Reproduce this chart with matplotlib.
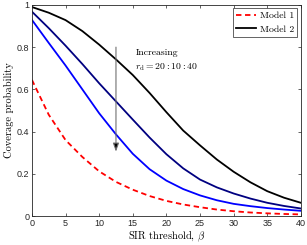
import numpy as np
import matplotlib
matplotlib.use("Agg")
import matplotlib.pyplot as plt

plt.rcParams['mathtext.fontset'] = 'cm'

beta = [0, 2.5, 5, 7.5, 10, 12.5, 15, 17.5, 20, 22.5, 25, 27.5, 30, 32.5, 35, 37.5, 40]
model1 = [0.645, 0.48, 0.36, 0.28, 0.212, 0.162, 0.125, 0.095, 0.072, 0.055, 0.042, 0.031, 0.023, 0.017, 0.013, 0.010, 0.008]
rd20 = [0.99, 0.963, 0.928, 0.876, 0.812, 0.742, 0.668, 0.583, 0.492, 0.405, 0.335, 0.268, 0.21, 0.16, 0.118, 0.087, 0.063]
rd30 = [0.968, 0.89, 0.807, 0.72, 0.629, 0.543, 0.457, 0.372, 0.293, 0.226, 0.173, 0.136, 0.107, 0.083, 0.063, 0.048, 0.036]
rd40 = [0.929, 0.82, 0.713, 0.60, 0.487, 0.387, 0.295, 0.222, 0.168, 0.128, 0.098, 0.075, 0.058, 0.047, 0.038, 0.031, 0.025]

xticks = [0, 5, 10, 15, 20, 25, 30, 35, 40]
yticks = [0, 0.2, 0.4, 0.6, 0.8, 1]
yticklabels = ['0', '0.2', '0.4', '0.6', '0.8', '1']

fig = plt.figure(figsize=(3.07, 2.45), dpi=100)
ax = fig.add_axes([0.104, 0.118, 0.876, 0.862])

ax.plot(beta, model1, '--', color='red', lw=1.3, dashes=(3, 2), label='Model 1')
ax.plot(beta, rd20, '-', color='black', lw=1.3, label='Model 2')
ax.plot(beta, rd30, '-', color='#000080', lw=1.3)
ax.plot(beta, rd40, '-', color='#0000ff', lw=1.3)

ax.annotate('', xy=(12.5, 0.305), xytext=(12.5, 0.80),
            arrowprops=dict(arrowstyle='-|>,head_length=0.5,head_width=0.18',
                            ec='#707070', fc='black', lw=0.8, shrinkA=0, shrinkB=0))
ax.text(15.4, 0.775, 'Increasing', family='cmr10', fontsize=7, va='center')
ax.text(15.4, 0.705, r'$r_{\rm d} = 20:10:40$', fontsize=7, va='center')

ax.set_xlim(0, 40)
ax.set_ylim(0, 1)
ax.set_xticks(xticks)
ax.set_yticks(yticks)
ax.set_yticklabels(yticklabels)
ax.tick_params(direction='in', length=2.5, width=0.5, colors='#262626', labelsize=6.5,
               top=True, right=True, pad=2)
for lab in ax.get_xticklabels() + ax.get_yticklabels():
    lab.set_family('Liberation Sans')
for s in ax.spines.values():
    s.set_linewidth(0.6)
    s.set_color('#262626')

ax.set_xlabel(r'SIR threshold, $\beta$', family='cmr10', fontsize=7.5, labelpad=1)
ax.set_ylabel('Coverage probability', family='cmr10', fontsize=7.5, labelpad=2)

leg = ax.legend(loc='upper right', prop={'family': 'cmr10', 'size': 7}, fancybox=False,
                edgecolor='#262626', framealpha=1, handlelength=2.1, handletextpad=0.4,
                labelspacing=0.5, borderpad=0.3, borderaxespad=0.35)
leg.get_frame().set_linewidth(0.5)

fig.savefig('out.png', dpi=100)
